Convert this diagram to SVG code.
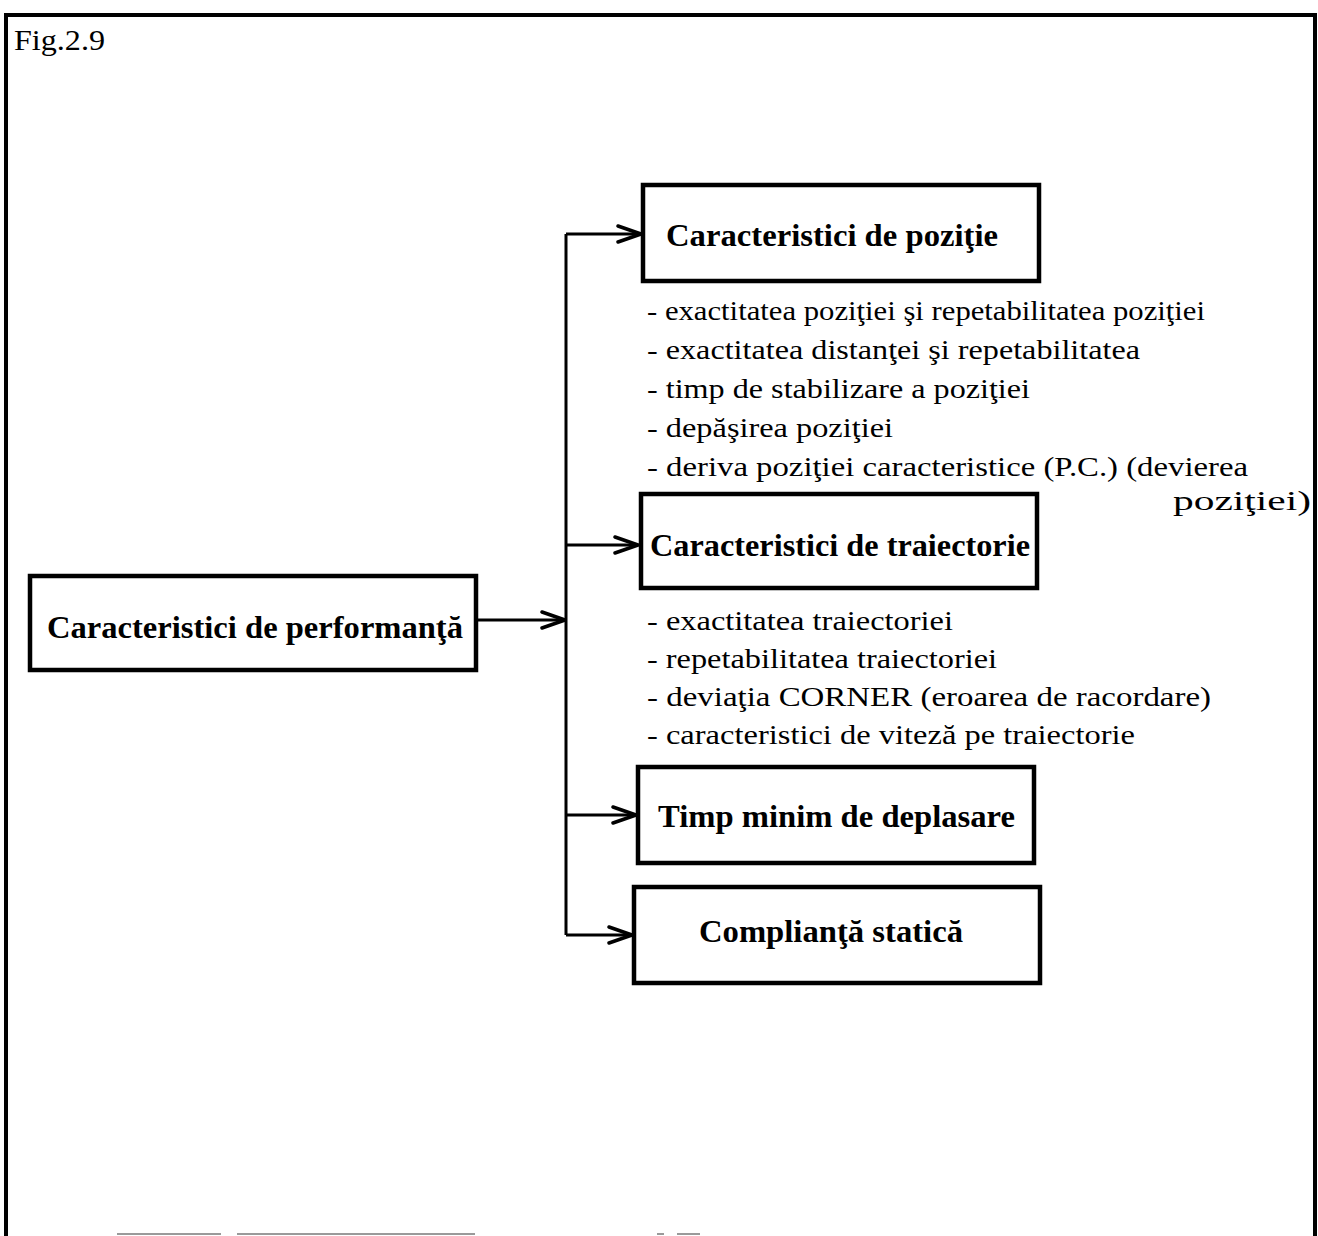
<svg xmlns="http://www.w3.org/2000/svg" width="1318" height="1236" viewBox="0 0 1318 1236">
  <style>
    .frame { fill: none; stroke: #000; stroke-width: 4; }
    .box { fill: #fff; stroke: #000; stroke-width: 4.5; }
    .title { font-family: "Liberation Serif", "Times New Roman", serif; font-weight: bold; font-size: 31px; fill: #000; }
    .item { font-family: "Liberation Serif", "Times New Roman", serif; font-size: 28px; fill: #000; }
    .caption { font-family: "Liberation Serif", "Times New Roman", serif; font-size: 29px; fill: #000; }
    .wire { fill: none; stroke: #000; stroke-width: 3; }
    .scan { stroke: #9a9a9a; stroke-width: 2; }
  </style>
  <defs>
    <marker id="open-arrow" viewBox="0 0 28 20" refX="26" refY="10" markerWidth="28" markerHeight="20" markerUnits="userSpaceOnUse" orient="auto">
      <path d="M3,2 L26,10 L3,18" fill="none" stroke="#000" stroke-width="3.5" stroke-linecap="round" stroke-linejoin="miter"/>
    </marker>
  </defs>

  <rect width="1318" height="1236" fill="#fff"/>

  <!-- page frame -->
  <path class="frame" d="M6,1236 L6,15 L1315,15 L1315,1236"/>
  <line class="scan" x1="117" y1="1234" x2="221" y2="1234"/>
  <line class="scan" x1="237" y1="1234" x2="475" y2="1234"/>
  <line class="scan" x1="657" y1="1234" x2="664" y2="1234"/>
  <line class="scan" x1="677" y1="1234" x2="700" y2="1234"/>

  <text class="caption" x="14" y="50" textLength="91" lengthAdjust="spacingAndGlyphs">Fig.2.9</text>

  <!-- connectors -->
  <g id="connectors">
    <line class="wire" x1="476" y1="620" x2="565" y2="620" marker-end="url(#open-arrow)"/>
    <line class="wire" x1="566" y1="234" x2="566" y2="935"/>
    <line class="wire" x1="566" y1="234" x2="641" y2="234" marker-end="url(#open-arrow)"/>
    <line class="wire" x1="566" y1="545" x2="638" y2="545" marker-end="url(#open-arrow)"/>
    <line class="wire" x1="566" y1="815" x2="636" y2="815" marker-end="url(#open-arrow)"/>
    <line class="wire" x1="566" y1="935" x2="632" y2="935" marker-end="url(#open-arrow)"/>
  </g>

  <!-- root node -->
  <g id="performanta">
    <rect class="box" x="30" y="576" width="446" height="94"/>
    <text class="title" x="47" y="638" textLength="416" lengthAdjust="spacingAndGlyphs">Caracteristici de performanţă</text>
  </g>

  <!-- position characteristics -->
  <g id="pozitie">
    <rect class="box" x="643" y="185" width="396" height="96"/>
    <text class="title" x="666" y="246" textLength="332" lengthAdjust="spacingAndGlyphs">Caracteristici de poziţie</text>
  </g>
  <g id="pozitie-items">
    <text class="item" x="647" y="320" textLength="558" lengthAdjust="spacingAndGlyphs">- exactitatea poziţiei şi repetabilitatea poziţiei</text>
    <text class="item" x="647" y="359" textLength="493" lengthAdjust="spacingAndGlyphs">- exactitatea distanţei şi repetabilitatea</text>
    <text class="item" x="647" y="398" textLength="383" lengthAdjust="spacingAndGlyphs">- timp de stabilizare a poziţiei</text>
    <text class="item" x="647" y="437" textLength="246" lengthAdjust="spacingAndGlyphs">- depăşirea poziţiei</text>
    <text class="item" x="647" y="476" textLength="601" lengthAdjust="spacingAndGlyphs">- deriva poziţiei caracteristice (P.C.) (devierea</text>
    <text class="item" x="1173" y="510" textLength="138" lengthAdjust="spacingAndGlyphs">poziţiei)</text>
  </g>

  <!-- trajectory characteristics -->
  <g id="traiectorie">
    <rect class="box" x="641" y="494" width="396" height="94"/>
    <text class="title" x="650" y="556" textLength="380" lengthAdjust="spacingAndGlyphs">Caracteristici de traiectorie</text>
  </g>
  <g id="traiectorie-items">
    <text class="item" x="647" y="630" textLength="306" lengthAdjust="spacingAndGlyphs">- exactitatea traiectoriei</text>
    <text class="item" x="647" y="668" textLength="350" lengthAdjust="spacingAndGlyphs">- repetabilitatea traiectoriei</text>
    <text class="item" x="647" y="706" textLength="564" lengthAdjust="spacingAndGlyphs">- deviaţia CORNER (eroarea de racordare)</text>
    <text class="item" x="647" y="744" textLength="488" lengthAdjust="spacingAndGlyphs">- caracteristici de viteză pe traiectorie</text>
  </g>

  <!-- minimum travel time -->
  <g id="timp-minim">
    <rect class="box" x="638" y="767" width="396" height="96"/>
    <text class="title" x="658" y="827" textLength="357" lengthAdjust="spacingAndGlyphs">Timp minim de deplasare</text>
  </g>

  <!-- static compliance -->
  <g id="complianta">
    <rect class="box" x="634" y="887" width="406" height="96"/>
    <text class="title" x="699" y="942" textLength="264" lengthAdjust="spacingAndGlyphs">Complianţă statică</text>
  </g>
</svg>
